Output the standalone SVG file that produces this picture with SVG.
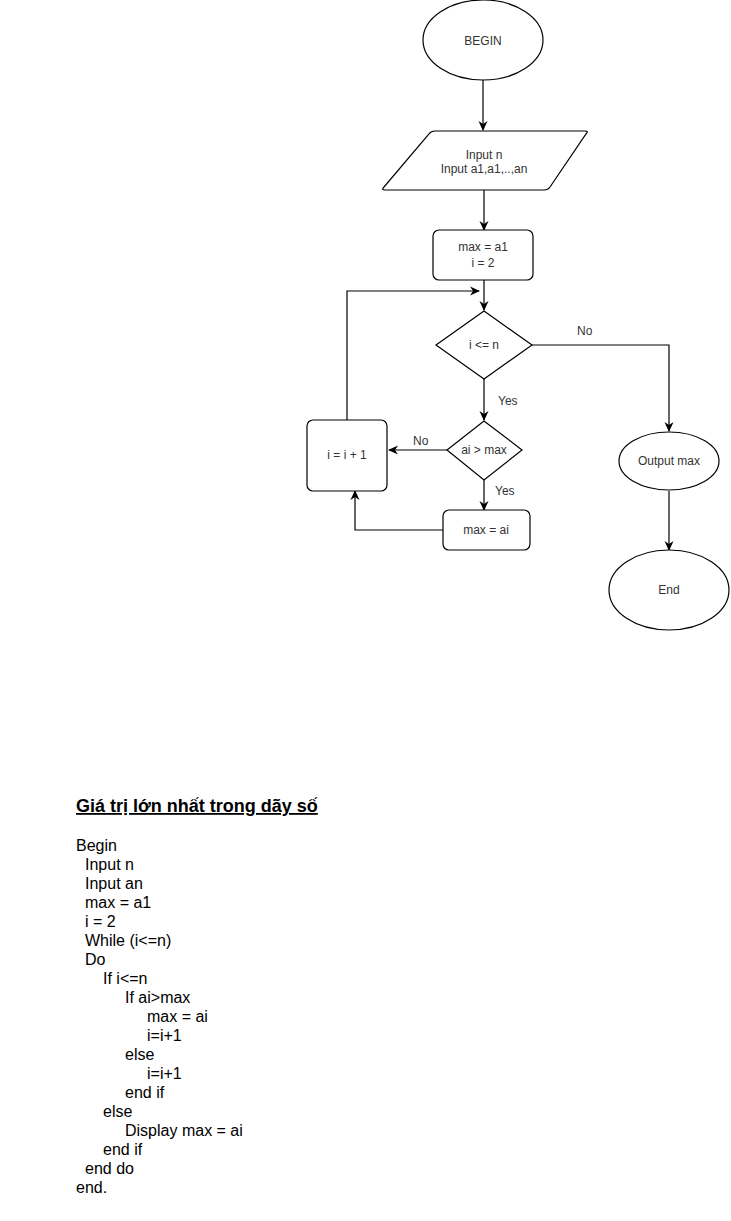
<svg xmlns="http://www.w3.org/2000/svg" width="731" height="1221" viewBox="0 0 731 1221">
<style>
.shape{fill:#fff;stroke:#000;stroke-width:1.2}
.lbl{font-family:"Liberation Sans",Arial,sans-serif;font-size:12px;fill:#333;text-anchor:middle}
.edge{fill:none;stroke:#000;stroke-width:1.2}
.elbl{font-family:"Liberation Sans",Arial,sans-serif;font-size:12px;fill:#333}
.code{font-family:"Liberation Sans",Arial,sans-serif;font-size:16px;fill:#000}
.title{font-family:"Liberation Sans",Arial,sans-serif;font-size:18px;font-weight:bold;fill:#000;text-decoration:underline}
</style>
<defs>
<marker id="arr" viewBox="0 0 10 10" refX="9" refY="5" markerWidth="10" markerHeight="10" markerUnits="userSpaceOnUse" orient="auto">
<path d="M0,0.5 L10,5 L0,9.5 L3,5 Z" fill="#000"/>
</marker>
</defs>
<rect width="731" height="1221" fill="#fff"/>
<g id="connectors">
<path class="edge" d="M483,80 V130" marker-end="url(#arr)"/>
<path class="edge" d="M484,190 V230" marker-end="url(#arr)"/>
<path class="edge" d="M484,280 V310" marker-end="url(#arr)"/>
<path class="edge" d="M484,379 V420" marker-end="url(#arr)"/>
<path class="edge" d="M447,450 H389" marker-end="url(#arr)"/>
<path class="edge" d="M484,480 V510" marker-end="url(#arr)"/>
<path class="edge" d="M443,530 H355 V491" marker-end="url(#arr)"/>
<path class="edge" d="M347,420 V291 H479" marker-end="url(#arr)"/>
<path class="edge" d="M532,345 H669 V431" marker-end="url(#arr)"/>
<path class="edge" d="M669,491 V550" marker-end="url(#arr)"/>
<text class="elbl" x="577" y="335">No</text>
<text class="elbl" x="498" y="405">Yes</text>
<text class="elbl" x="413" y="445">No</text>
<text class="elbl" x="495" y="495">Yes</text>
</g>
<g id="begin">
<ellipse class="shape" cx="483" cy="40" rx="60" ry="40"/>
<text class="lbl" x="483" y="45">BEGIN</text>
</g>
<g id="input">
<path class="shape" d="M435,131 H585 Q589,131 586,134 L550,187 Q548,190 544,190 H385 Q381,190 384,187 L429,134 Q431,131 435,131 Z"/>
<text class="lbl" x="484" y="159">Input n</text>
<text class="lbl" x="484" y="173">Input a1,a1,..,an</text>
</g>
<g id="init">
<rect class="shape" x="433" y="230" width="100" height="50" rx="6"/>
<text class="lbl" x="483" y="251">max = a1</text>
<text class="lbl" x="483" y="267">i = 2</text>
</g>
<g id="cond1">
<path class="shape" d="M484,311 L532,345 L484,379 L436,345 Z"/>
<text class="lbl" x="484" y="349">i &lt;= n</text>
</g>
<g id="cond2">
<path class="shape" d="M484,421 L522,450 L484,480 L447,450 Z"/>
<text class="lbl" x="484" y="454">ai &gt; max</text>
</g>
<g id="incr">
<rect class="shape" x="307" y="420" width="80" height="71" rx="6"/>
<text class="lbl" x="347" y="459">i = i + 1</text>
</g>
<g id="assign">
<rect class="shape" x="443" y="510" width="87" height="40" rx="6"/>
<text class="lbl" x="486" y="534">max = ai</text>
</g>
<g id="output">
<ellipse class="shape" cx="669" cy="461" rx="50" ry="29"/>
<text class="lbl" x="669" y="465">Output max</text>
</g>
<g id="end">
<ellipse class="shape" cx="669" cy="590" rx="60" ry="40"/>
<text class="lbl" x="669" y="594">End</text>
</g>
<g id="pseudocode">
<text class="title" x="76" y="812">Giá trị lớn nhất trong dãy số</text>
<text class="code" x="76" y="851">Begin</text>
<text class="code" x="85" y="870">Input n</text>
<text class="code" x="85" y="889">Input an</text>
<text class="code" x="85" y="908">max = a1</text>
<text class="code" x="85" y="927">i = 2</text>
<text class="code" x="85" y="946">While (i&lt;=n)</text>
<text class="code" x="85" y="965">Do</text>
<text class="code" x="103" y="984">If i&lt;=n</text>
<text class="code" x="125" y="1003">If ai&gt;max</text>
<text class="code" x="147" y="1022">max = ai</text>
<text class="code" x="147" y="1041">i=i+1</text>
<text class="code" x="125" y="1060">else</text>
<text class="code" x="147" y="1079">i=i+1</text>
<text class="code" x="125" y="1098">end if</text>
<text class="code" x="103" y="1117">else</text>
<text class="code" x="125" y="1136">Display max = ai</text>
<text class="code" x="103" y="1155">end if</text>
<text class="code" x="85" y="1174">end do</text>
<text class="code" x="76" y="1193">end.</text>
</g>
</svg>
